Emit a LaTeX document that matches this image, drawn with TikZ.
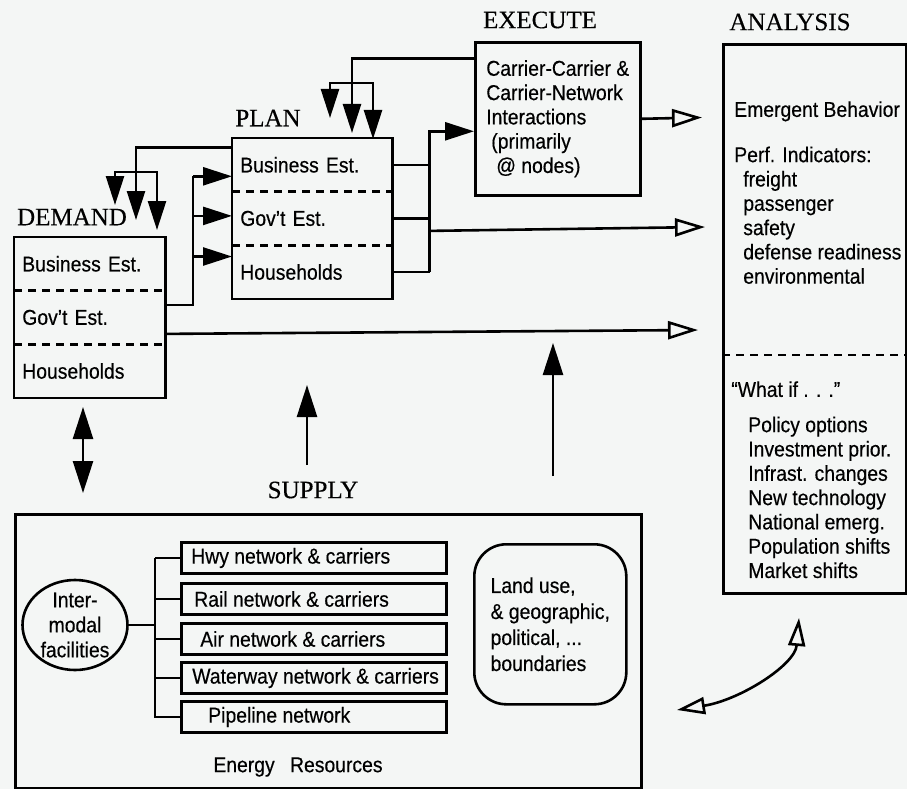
\documentclass[tikz,border=0pt]{standalone}
\usepackage{fontspec}
\setmainfont{Liberation Sans}[FakeStretch=0.9,FakeBold=0.4]
\newfontfamily\headfont{Liberation Serif}[FakeBold=0.3]
\usetikzlibrary{arrows.meta,shapes.geometric}
\definecolor{paper}{RGB}{244,246,245}
\newcommand{\netl}[1]{\makebox[253pt][l]{#1}}
\begin{document}
\begin{tikzpicture}[x=1pt,y=-1pt,line width=2.6pt,>={Triangle[length=29pt,width=18pt]},font=\fontsize{21.5}{24.3}\selectfont]
\tikzset{Head/.style = {font=\headfont\fontsize{25}{30}\selectfont},
  Row/.style = {anchor=north west,minimum height=51pt,inner xsep=7pt,text width=#1,align=left},
  Net/.style = {draw,anchor=west,minimum height=31pt,inner xsep=6pt},
  Open/.style = {-{Triangle[open,length=30pt,width=18pt]}},
  Up/.style = {-{Triangle[length=32pt,width=20pt]}},
  Both/.style = {{Triangle[length=32pt,width=20pt]}-{Triangle[length=32pt,width=20pt]}},
  Split/.style = {dash pattern=on 8pt off 6pt}}
\fill[paper] (0,0) rectangle (907,789);
\useasboundingbox (0,0) rectangle (907,789);
\node[Head] (dT) at (72,217) {DEMAND};
\node[Row=135pt] (d1) at (14,237) {Business Est.};
\node[Row=135pt] (d2) at (d1.south west) {Gov’t Est.};
\node[Row=135pt] (d3) at (d2.south west) {Households};
\draw (d1.north west) rectangle (d3.south east);
\draw[Split] (d1.south west) -- (d1.south east);
\draw[Split] (d2.south west) -- (d2.south east);
\node[Head] (pT) at (268,118) {PLAN};
\node[Row=144pt] (p1) at (232,138) {Business Est.};
\node[Row=144pt] (p2) at (p1.south west) {Gov’t Est.};
\node[Row=144pt] (p3) at (p2.south west) {Households};
\draw (p1.north west) rectangle (p3.south east);
\draw[Split] (p1.south west) -- (p1.south east);
\draw[Split] (p2.south west) -- (p2.south east);
\node[Head] (eT) at (540,20) {EXECUTE};
\node[draw,anchor=north west,minimum width=165pt,minimum height=153pt,align=left] (ex) at (474,41)
  {Carrier-Carrier \&\\Carrier-Network\\Interactions\\\hspace*{5pt}(primarily\\\hspace*{10pt}@ nodes)};
\node[Head] (aT) at (790,22) {ANALYSIS};
\node[draw,anchor=north west,minimum width=183pt,minimum height=549pt] (ana) at (722,43) {};
\coordinate (as) at (722,355);
\draw[Split] (as) -- (as -| ana.east);
\node[anchor=north west,inner sep=0pt,align=left] (an1) at (733,100)
  {Emergent Behavior\\[21pt]Perf. Indicators:\\\hspace*{9pt}freight\\\hspace*{9pt}passenger\\\hspace*{9pt}safety\\\hspace*{9pt}defense readiness\\\hspace*{9pt}environmental};
\node[anchor=north west,inner sep=0pt,align=left] (an2) at (730,380)
  {“What if . . .”\\[11pt]\hspace*{17pt}Policy options\\\hspace*{17pt}Investment prior.\\\hspace*{17pt}Infrast. changes\\\hspace*{17pt}New technology\\\hspace*{17pt}National emerg.\\\hspace*{17pt}Population shifts\\\hspace*{17pt}Market shifts};
\node[Head] (sT) at (313,490) {SUPPLY};
\node[draw,anchor=north west,minimum width=626pt,minimum height=274pt] (sup) at (14,513) {};
\node[draw,ellipse,minimum width=105pt,minimum height=90pt,inner sep=-5pt,align=center,font=\fontsize{21.5}{25}\selectfont] (im) at (75,625) {Inter-\\modal\\facilities};
\node[Net] (n1) at (180,558) {\netl{\hspace*{4pt}Hwy network \& carriers}};
\node[Net] (n2) at (180,599) {\netl{\hspace*{7pt}Rail network \& carriers}};
\node[Net] (n3) at (180,639) {\netl{\hspace*{13pt}Air network \& carriers}};
\node[Net] (n4) at (180,678) {\netl{\hspace*{5pt}Waterway network \& carriers}};
\node[Net] (n5) at (180,717) {\netl{\hspace*{21pt}Pipeline network}};
\coordinate (nb) at (155,558);
\draw (im.east) -- (im.east -| nb);
\draw (nb) -- (n1.west);
\draw (nb) |- (n5.west);
\draw (nb |- n2.west) -- (n2.west);
\draw (nb |- n3.west) -- (n3.west);
\draw (nb |- n4.west) -- (n4.west);
\node[draw,rounded corners=32pt,anchor=north west,minimum width=152pt,minimum height=160pt,align=left,font=\fontsize{21.5}{26}\selectfont] (land) at (473,543)
  {Land use,\\\& geographic,\\political, ...\\boundaries};
\node (en) at (298,767) {Energy\hspace{10pt} Resources};
\draw ([yshift=12.5pt]d2.east) -| ([xshift=-39pt,yshift=-11.5pt]p1.west);
\draw[->] ([xshift=-39pt,yshift=-11.5pt]p1.west) -- ([yshift=-11.5pt]p1.west);
\draw[->] ([xshift=-39pt,yshift=2.5pt]p2.west) -- ([yshift=2.5pt]p2.west);
\draw[->] ([xshift=-39pt,yshift=15.5pt]p3.west) -- ([yshift=15.5pt]p3.west);
\coordinate (fd) at (136,172);
\draw ([yshift=17.5pt]p1.west) -| (fd);
\draw[->] (fd) -- ++(0,48);
\draw[->] (fd) -| ++(-21,33);
\draw[->] (fd) -| ++(21,58);
\coordinate (fe) at (352,83);
\draw ([yshift=60.5pt]ex.west) -| (fe);
\draw[->] (fe) -- ++(0,50);
\draw[->] (fe) -| ++(-22,35);
\draw[->] (fe) -| ++(21,56);
\draw (p1.east) -- ++(37,0);
\draw (p2.east) -- ++(37,0);
\draw (p3.east) -- ++(37,0);
\draw[->] ([xshift=37pt]p3.east) |- ([yshift=-12.5pt]ex.west);
\coordinate (aE) at (702,117.5);
\coordinate (aP) at (705,227);
\coordinate (aD) at (698,330);
\draw[Open] (ex.east) -- (aE);
\draw[Open] ([xshift=37pt,yshift=-12.5pt]p2.east) -- (aP);
\draw[Open] ([yshift=-16.5pt]d2.east) -- (aD);
\coordinate (b1) at (83,407); \coordinate (b2) at (83,493);
\draw[Both] (b1) -- (b2);
\coordinate (s1a) at (307,465); \coordinate (s1b) at (307,385);
\draw[Up] (s1a) -- (s1b);
\coordinate (s2a) at (553,476); \coordinate (s2b) at (553,343);
\draw[Up] (s2a) -- (s2b);
\coordinate (c1) at (677,710); \coordinate (c2) at (799,618);
\draw[{Triangle[open,length=28pt,width=17pt]}-{Triangle[open,length=28pt,width=17pt]}] (c1) .. controls (740,700) and (795,665) .. (c2);
\end{tikzpicture}
\end{document}
